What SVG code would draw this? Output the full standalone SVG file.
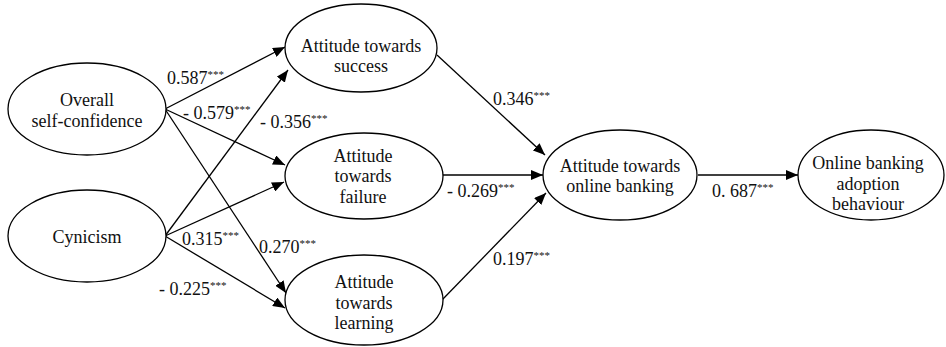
<svg xmlns="http://www.w3.org/2000/svg" width="946" height="347" viewBox="0 0 946 347">
<style>
.node ellipse{fill:#fff;stroke:#000;stroke-width:1.3}
.node text{font-family:'Liberation Serif','Times New Roman',serif;font-size:18px;fill:#111;text-anchor:middle}
.lbl{font-family:'Liberation Serif','Times New Roman',serif;font-size:18px;fill:#111}
.sup{font-size:11px}
.conn line{stroke:#000;stroke-width:1.3;marker-end:url(#arr)}
</style>
<defs>
<marker id="arr" markerUnits="userSpaceOnUse" markerWidth="13" markerHeight="10" refX="12" refY="5" orient="auto">
<path d="M0,0 L12,5 L0,10 z" fill="#000"/>
</marker>
</defs>
<rect width="946" height="347" fill="#fff"/>
<g class="conn" id="connectors">
<line x1="165" y1="109" x2="285" y2="47"/>
<line x1="165" y1="109" x2="285" y2="165"/>
<line x1="165" y1="109" x2="286" y2="293"/>
<line x1="165" y1="236" x2="288" y2="70"/>
<line x1="165" y1="236" x2="284" y2="182"/>
<line x1="165" y1="236" x2="285" y2="308"/>
<line x1="437" y1="55" x2="545" y2="155"/>
<line x1="443" y1="175" x2="543" y2="175"/>
<line x1="442" y1="300" x2="546" y2="193"/>
<line x1="698" y1="175" x2="798" y2="175"/>
</g>
<g id="labels">
<text class="lbl" x="167" y="84">0.587<tspan class="sup" dy="-6">***</tspan></text>
<text class="lbl" x="183" y="119">- 0.579<tspan class="sup" dy="-6">***</tspan></text>
<text class="lbl" x="260" y="128">- 0.356<tspan class="sup" dy="-6">***</tspan></text>
<text class="lbl" x="182" y="245">0.315<tspan class="sup" dy="-6">***</tspan></text>
<text class="lbl" x="259" y="253">0.270<tspan class="sup" dy="-6">***</tspan></text>
<text class="lbl" x="159" y="295">- 0.225<tspan class="sup" dy="-6">***</tspan></text>
<text class="lbl" x="447" y="197">- 0.269<tspan class="sup" dy="-6">***</tspan></text>
<text class="lbl" x="493" y="105">0.346<tspan class="sup" dy="-6">***</tspan></text>
<text class="lbl" x="493" y="265">0.197<tspan class="sup" dy="-6">***</tspan></text>
<text class="lbl" x="712" y="197">0. 687<tspan class="sup" dy="-6">***</tspan></text>
</g>
<g class="node" id="overall">
<ellipse cx="87" cy="109" rx="79" ry="46"/>
<text x="87" y="106">Overall</text>
<text x="87" y="127">self-confidence</text>
</g>
<g class="node" id="cynicism">
<ellipse cx="87" cy="236" rx="79" ry="46"/>
<text x="87" y="243">Cynicism</text>
</g>
<g class="node" id="success">
<ellipse cx="361" cy="48" rx="76" ry="44"/>
<text x="361" y="52">Attitude towards</text>
<text x="361" y="72">success</text>
</g>
<g class="node" id="failure">
<ellipse cx="364" cy="176" rx="79" ry="43"/>
<text x="363" y="162">Attitude</text>
<text x="363" y="182">towards</text>
<text x="363" y="203">failure</text>
</g>
<g class="node" id="learning">
<ellipse cx="364" cy="300" rx="79" ry="45"/>
<text x="364" y="288">Attitude</text>
<text x="364" y="309">towards</text>
<text x="364" y="329">learning</text>
</g>
<g class="node" id="online">
<ellipse cx="620" cy="175" rx="77" ry="45"/>
<text x="620" y="172">Attitude towards</text>
<text x="620" y="192">online banking</text>
</g>
<g class="node" id="adoption">
<ellipse cx="871" cy="175" rx="73" ry="45"/>
<text x="868" y="169">Online banking</text>
<text x="868" y="190">adoption</text>
<text x="868" y="210">behaviour</text>
</g>
</svg>
